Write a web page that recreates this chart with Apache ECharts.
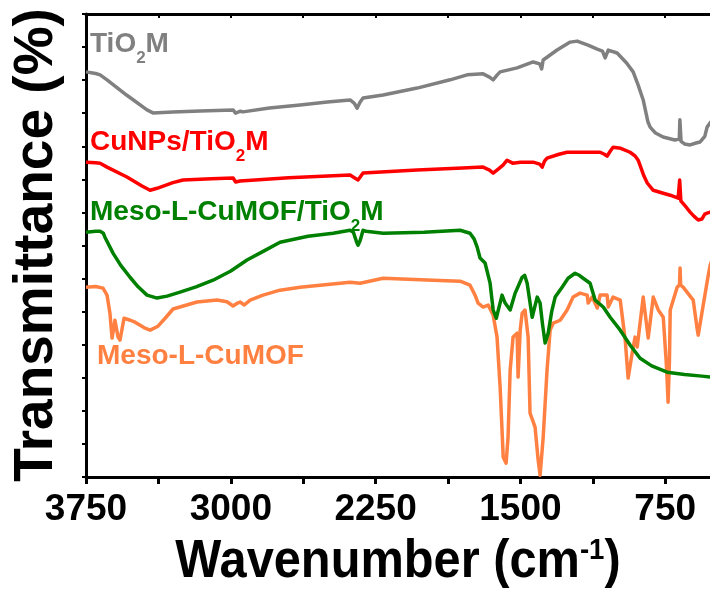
<!DOCTYPE html>
<html>
<head>
<meta charset="utf-8">
<script src="https://cdn.jsdelivr.net/npm/echarts@6/dist/echarts.min.js"></script>
<style>html,body{margin:0;padding:0;background:#fff}#c{width:710px;height:592px}</style>
</head>
<body>
<div id="c"></div>
<script>
// x: wavenumber (cm-1), y: transmittance (offset, arbitrary units)
var xTicks = [3750, 3000, 2250, 1500, 750];
var seriesNames = ['TiO2M', 'CuNPs/TiO2M', 'Meso-L-CuMOF/TiO2M', 'Meso-L-CuMOF'];
var seriesColors = ['#808080', '#ff0000', '#008000', '#ff8040'];

var tio2m = [[3750,122.5],[3700,122.0],[3677,121.6],[3641,120.1],[3540,115.5],[3434,111.0],[3403,110.1],[3300,110.4],[3159,110.7],[2988,111.0],[2975,110.0],[2968,109.8],[2950,110.6],[2937,110.4],[2800,111.6],[2641,112.5],[2500,113.4],[2382,114.0],[2360,113.0],[2346,111.5],[2330,113.4],[2315,114.6],[2211,115.5],[2035,117.6],[1864,120.1],[1776,121.6],[1693,121.9],[1660,120.9],[1641,120.1],[1620,121.6],[1605,122.5],[1517,123.7],[1434,125.5],[1400,124.9],[1390,123.4],[1382,126.1],[1310,129.1],[1242,131.5],[1206,131.8],[1150,130.6],[1102,129.4],[1075,128.8],[1061,126.7],[1045,129.1],[1035,129.4],[999,128.2],[950,125.2],[916,122.5],[890,118.5],[864,114.0],[840,107.5],[828,105.8],[800,104.0],[761,102.8],[700,101.9],[677,102.2],[674,108.0],[671,108.0],[668,101.5],[650,100.7],[621,100.4],[590,101.0],[569,101.3],[545,103.0],[533,105.8],[517,107.1],[505,108.0]];

var cunps = [[3750,95.2],[3700,95.0],[3677,94.9],[3641,93.7],[3538,90.7],[3460,88.0],[3418,86.7],[3382,87.3],[3300,89.0],[3247,89.8],[3100,90.2],[2988,90.4],[2975,89.2],[2968,88.9],[2952,89.5],[2700,90.5],[2382,91.3],[2360,90.5],[2341,89.8],[2315,91.9],[2035,92.8],[1800,93.4],[1693,93.7],[1660,92.8],[1641,91.9],[1615,93.1],[1590,94.3],[1569,95.8],[1540,94.9],[1500,95.2],[1434,95.2],[1400,94.6],[1387,93.7],[1375,95.5],[1362,96.4],[1300,97.6],[1258,98.2],[1150,98.2],[1087,98.2],[1065,97.6],[1051,97.0],[1035,98.5],[1020,99.7],[980,99.4],[932,98.2],[905,97.0],[890,95.8],[860,91.0],[843,88.9],[812,86.7],[760,85.8],[724,85.2],[683,84.3],[677,84.0],[675,89.8],[671,89.8],[669,83.5],[662,83.1],[640,81.5],[621,80.1],[600,78.8],[579,77.7],[560,78.0],[545,79.5],[533,79.8],[517,80.1],[505,80.5]];

var mofTio2m = [[3750,74.0],[3700,74.3],[3677,74.3],[3660,73.7],[3652,72.5],[3610,67.7],[3570,64.0],[3522,60.4],[3480,57.5],[3434,55.0],[3382,54.1],[3330,54.7],[3263,55.9],[3180,57.5],[3092,59.5],[3000,62.3],[2916,65.6],[2830,68.3],[2745,71.0],[2600,72.8],[2470,73.7],[2382,74.6],[2365,74.0],[2356,73.7],[2348,71.0],[2341,70.1],[2330,71.5],[2315,74.6],[2300,74.3],[2211,73.7],[2000,74.0],[1812,74.6],[1761,73.7],[1740,72.0],[1724,69.5],[1709,66.2],[1683,64.7],[1657,58.6],[1641,50.5],[1625,48.0],[1615,47.4],[1595,55.0],[1585,53.5],[1579,52.6],[1553,50.5],[1527,55.6],[1491,60.4],[1478,61.0],[1465,58.6],[1439,48.3],[1413,54.4],[1398,52.6],[1385,46.0],[1372,40.5],[1356,43.5],[1338,50.0],[1320,54.4],[1284,57.4],[1253,60.1],[1217,61.6],[1195,61.0],[1175,60.1],[1139,58.6],[1113,53.5],[1071,51.4],[1035,48.3],[983,44.4],[932,39.9],[880,35.9],[820,33.6],[740,31.7],[650,31.0],[560,30.5],[505,30.2]];

var mof = [[3750,57.4],[3700,57.6],[3662,57.1],[3641,55.0],[3626,49.5],[3615,42.0],[3600,47.4],[3584,42.3],[3574,41.4],[3553,48.0],[3520,47.4],[3496,46.8],[3450,45.2],[3418,44.4],[3377,45.6],[3340,48.0],[3299,50.8],[3175,52.9],[3071,53.5],[3020,53.0],[2988,51.7],[2965,52.6],[2952,52.9],[2930,52.0],[2900,53.5],[2833,55.0],[2745,56.5],[2641,57.4],[2382,58.9],[2330,58.6],[2211,60.1],[1952,59.5],[1812,59.2],[1761,58.0],[1735,55.0],[1719,52.6],[1693,51.4],[1667,52.0],[1641,48.9],[1621,42.3],[1605,27.2],[1589,6.0],[1574,4.2],[1564,12.0],[1553,32.3],[1538,42.3],[1517,43.5],[1512,30.2],[1501,44.4],[1491,49.5],[1476,50.5],[1460,42.3],[1450,19.3],[1424,15.1],[1408,5.1],[1398,0.5],[1382,12.0],[1362,32.3],[1346,44.4],[1330,46.5],[1294,47.4],[1258,50.5],[1227,54.4],[1191,55.6],[1154,55.0],[1149,52.6],[1128,54.4],[1102,51.1],[1087,55.0],[1051,55.0],[1045,51.4],[1020,54.4],[983,53.5],[957,41.4],[942,29.9],[921,37.5],[906,42.3],[895,39.3],[864,54.4],[838,42.0],[812,54.4],[786,50.5],[760,48.3],[745,35.0],[740,29.3],[735,22.6],[728,35.0],[724,50.5],[688,57.4],[676,58.0],[673,63.2],[670,58.0],[657,57.4],[605,53.5],[585,45.0],[579,42.9],[569,42.3],[553,52.0],[527,61.0],[517,64.1],[505,66.0]];

var allData = [tio2m, cunps, mofTio2m, mof];

var FF = '"Liberation Sans", Arial, sans-serif';
var chart = echarts.init(document.getElementById('c'), null, {renderer: 'canvas'});

function labelText(name) {
  var parts = name.split('TiO2');
  if (parts.length === 1) return '{m|' + name + '}';
  return '{m|' + parts[0] + 'TiO}{s|2}{m|' + parts[1] + '}';
}
var labelRich = {
  m: {fontSize: 28, fontWeight: 'bold', fontFamily: FF, lineHeight: 30, verticalAlign: 'top'},
  s: {fontSize: 17, fontWeight: 'bold', fontFamily: FF, lineHeight: 17, verticalAlign: 'top', padding: [20, 0, 0, 0]}
};
var labelPos = [[90, 30], [90, 128], [90, 198], [97, 342]];

var graphics = seriesNames.map(function (n, i) {
  return {type: 'text', x: labelPos[i][0], y: labelPos[i][1], silent: true,
    style: {text: labelText(n), rich: labelRich, fill: seriesColors[i], align: 'left', verticalAlign: 'top'}};
});
graphics.push({type: 'text', x: 398, y: 536, scaleX: 0.92, silent: true,
  style: {text: '{m|Wavenumber (cm}{p|-1}{m|)}', fill: '#000', align: 'center', verticalAlign: 'top',
    rich: {m: {fontSize: 53, fontWeight: 'bold', fontFamily: FF, lineHeight: 56, verticalAlign: 'top'},
           p: {fontSize: 30, fontWeight: 'bold', fontFamily: FF, lineHeight: 30, verticalAlign: 'top'}}}});
graphics.push({type: 'text', x: 37, y: 245, rotation: Math.PI / 2, silent: true,
  style: {text: 'Transmittance (%)', fill: '#000', font: 'bold 55px ' + FF, align: 'center', verticalAlign: 'middle'}});

var axisCommon = {
  type: 'value', inverse: true, min: 0, max: 3750, interval: 750,
  splitLine: {show: false},
  axisLine: {show: true, onZero: false, lineStyle: {color: '#000', width: 3}}
};

chart.setOption({
  animation: false,
  backgroundColor: '#fff',
  grid: {left: 86, width: 724, top: 14, height: 463, containLabel: false, outerBoundsMode: 'none'},
  xAxis: [
    Object.assign({}, axisCommon, {
      position: 'bottom',
      axisTick: {show: true, inside: false, length: 7, lineStyle: {color: '#000', width: 3}},
      minorTick: {show: true, splitNumber: 2, length: 7, lineStyle: {color: '#000', width: 3}},
      axisLabel: {show: true, fontSize: 37, fontWeight: 'bold', fontFamily: FF, color: '#000', margin: 14,
        formatter: function (v) { return xTicks.indexOf(v) >= 0 ? String(v) : ''; }}
    }),
    Object.assign({}, axisCommon, {
      position: 'top',
      axisTick: {show: true, inside: true, length: 4, lineStyle: {color: '#000', width: 2}},
      minorTick: {show: true, splitNumber: 2, length: 4, lineStyle: {color: '#000', width: 2}},
      axisLabel: {show: false}
    })
  ],
  yAxis: {
    type: 'value', min: 0, max: 140, interval: 10,
    splitLine: {show: false},
    axisLine: {show: true, onZero: false, lineStyle: {color: '#000', width: 3}},
    axisTick: {show: true, inside: false, length: 4, lineStyle: {color: '#000', width: 2}},
    axisLabel: {show: false}
  },
  series: allData.map(function (d, i) {
    return {type: 'line', name: seriesNames[i], data: d, xAxisIndex: 0, showSymbol: false, symbol: 'none',
      clip: true, lineStyle: {color: seriesColors[i], width: 3.5, join: 'round'}, z: 3 + (3 - i)};
  }),
  graphic: graphics
});
</script>
</body>
</html>
